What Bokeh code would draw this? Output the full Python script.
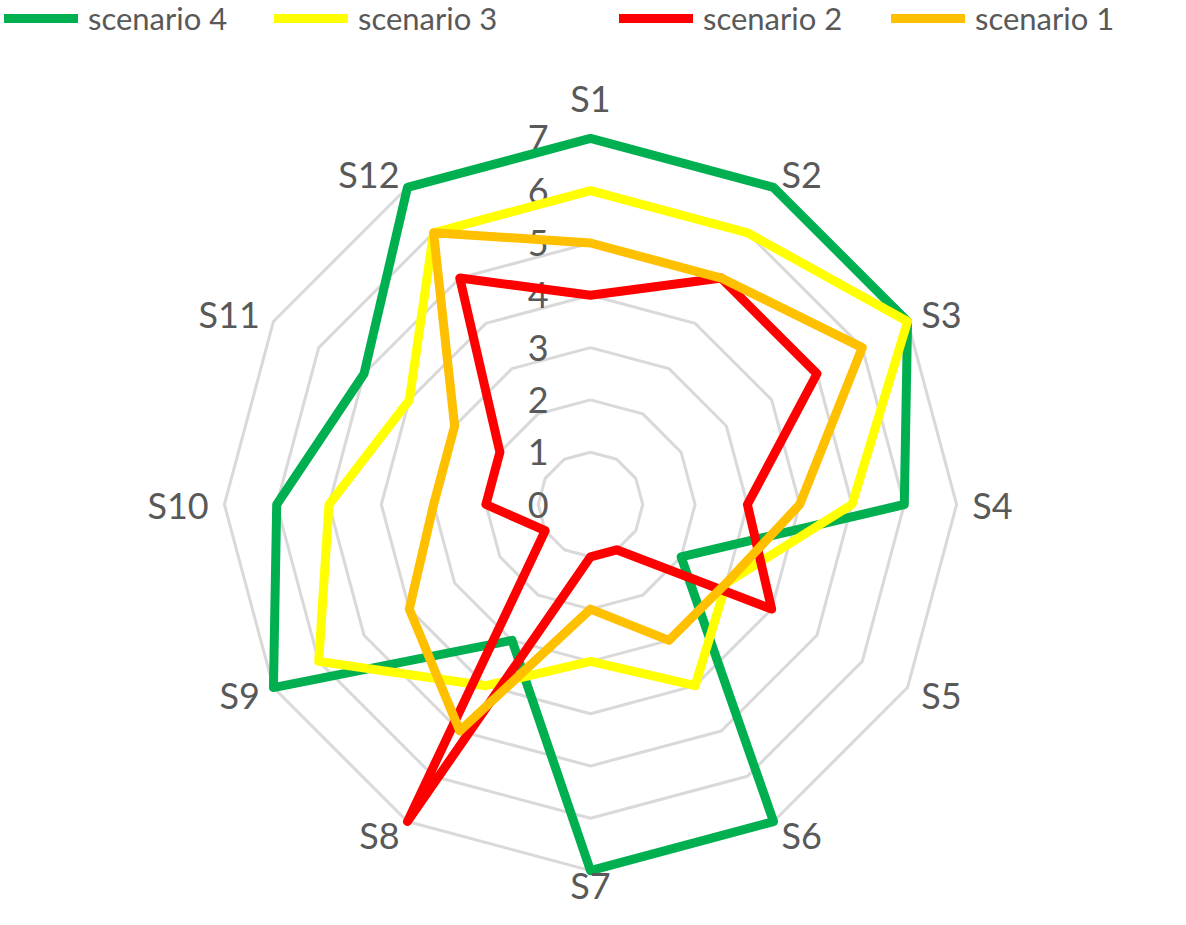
import numpy as np
from bokeh.plotting import figure
from bokeh.models import Range1d, ColumnDataSource, Legend, LegendItem
from bokeh.core.properties import value
from bokeh.embed import file_html
from bokeh.resources import INLINE

# ---- data ----
categories = ["S1", "S2", "S3", "S4", "S5", "S6", "S7", "S8", "S9", "S10", "S11", "S12"]
scenario_4 = [7, 7, 7, 6, 2, 7, 7, 3, 7, 6, 5, 7]
scenario_3 = [6, 6, 7, 5, 3, 4, 3, 4, 6, 5, 4, 6]
scenario_2 = [4, 5, 5, 3, 4, 1, 1, 7, 1, 2, 2, 5]
scenario_1 = [5, 5, 6, 4, 3, 3, 2, 5, 4, 3, 3, 6]
tick_labels = ["0", "1", "2", "3", "4", "5", "6", "7"]
ring_levels = [1, 2, 3, 4, 5, 6, 7]

series = [
    ("scenario 4", scenario_4, "#00B050"),
    ("scenario 3", scenario_3, "#FFFF00"),
    ("scenario 2", scenario_2, "#FF0000"),
    ("scenario 1", scenario_1, "#FFC000"),
]

# ---- layout ----
W, H = 1170, 909
CX, CY = 590, 504      # centre in canvas pixels
UNIT = 52.3            # pixels per value unit

p = figure(width=W, height=H, output_backend="svg", toolbar_location=None,
           x_range=Range1d(-CX / UNIT, (W - CX) / UNIT),
           y_range=Range1d(-(H - CY) / UNIT, CY / UNIT),
           x_axis_location=None, y_axis_location=None, min_border=0)
p.grid.visible = False
p.outline_line_color = None
p.background_fill_color = "white"

n = len(categories)
theta = np.pi / 2 - np.arange(n) * 2 * np.pi / n
cos_t, sin_t = np.cos(theta), np.sin(theta)

def closed(vals):
    v = np.asarray(vals, dtype=float)
    xs = v * cos_t
    ys = v * sin_t
    return list(xs) + [xs[0]], list(ys) + [ys[0]]

# grid rings
ring_xs, ring_ys = [], []
for lv in ring_levels:
    xs, ys = closed([lv] * n)
    ring_xs.append(xs)
    ring_ys.append(ys)
p.multi_line(ring_xs, ring_ys, line_color="#D9D9D9", line_width=3)

# tick labels
tick_src = ColumnDataSource(dict(x=[-0.8] * len(tick_labels),
                                 y=[float(t) for t in tick_labels],
                                 text=tick_labels))
p.text(x="x", y="y", text="text", source=tick_src, text_font=value("Lato"),
       text_font_size="36px", text_color="#595959", text_align="right",
       text_baseline="middle")

# series
renderers = {}
for name, vals, col in series:
    xs, ys = closed(vals)
    r = p.line(xs, ys, line_color=col, line_width=9, line_join="round", line_cap="round")
    renderers[name] = r

# category labels
lab_x, lab_y, lab_align = [], [], []
for c, s in zip(cos_t, sin_t):
    if abs(c) < 1e-6:
        R = 7.78 if s > 0 else 7.28
        al = "center"
    else:
        R = 7.3
        al = "left" if c > 0 else "right"
    lab_x.append(R * c)
    lab_y.append(R * s)
    lab_align.append(al)
cat_src = ColumnDataSource(dict(x=lab_x, y=lab_y, text=categories, align=lab_align))
p.text(x="x", y="y", text="text", source=cat_src, text_font=value("Lato"),
       text_font_size="36px", text_color="#595959", text_align="align",
       text_baseline="middle")

# legends
def make_legend(names, x0, lw):
    lg = Legend(items=[LegendItem(label=nm, renderers=[renderers[nm]]) for nm in names],
                orientation="horizontal", location=(x0, H - 37),
                glyph_width=74, glyph_height=24, label_height=24, label_width=lw,
                label_standoff=10, spacing=6, padding=0, margin=0,
                border_line_alpha=0, background_fill_alpha=0,
                label_text_font="Lato", label_text_font_size="31px",
                label_text_color="#595959")
    p.add_layout(lg, "center")

make_legend(["scenario 4", "scenario 3"], 4, 180)
make_legend(["scenario 2", "scenario 1"], 619, 182)

open("out.html", "w").write(file_html(p, INLINE))
